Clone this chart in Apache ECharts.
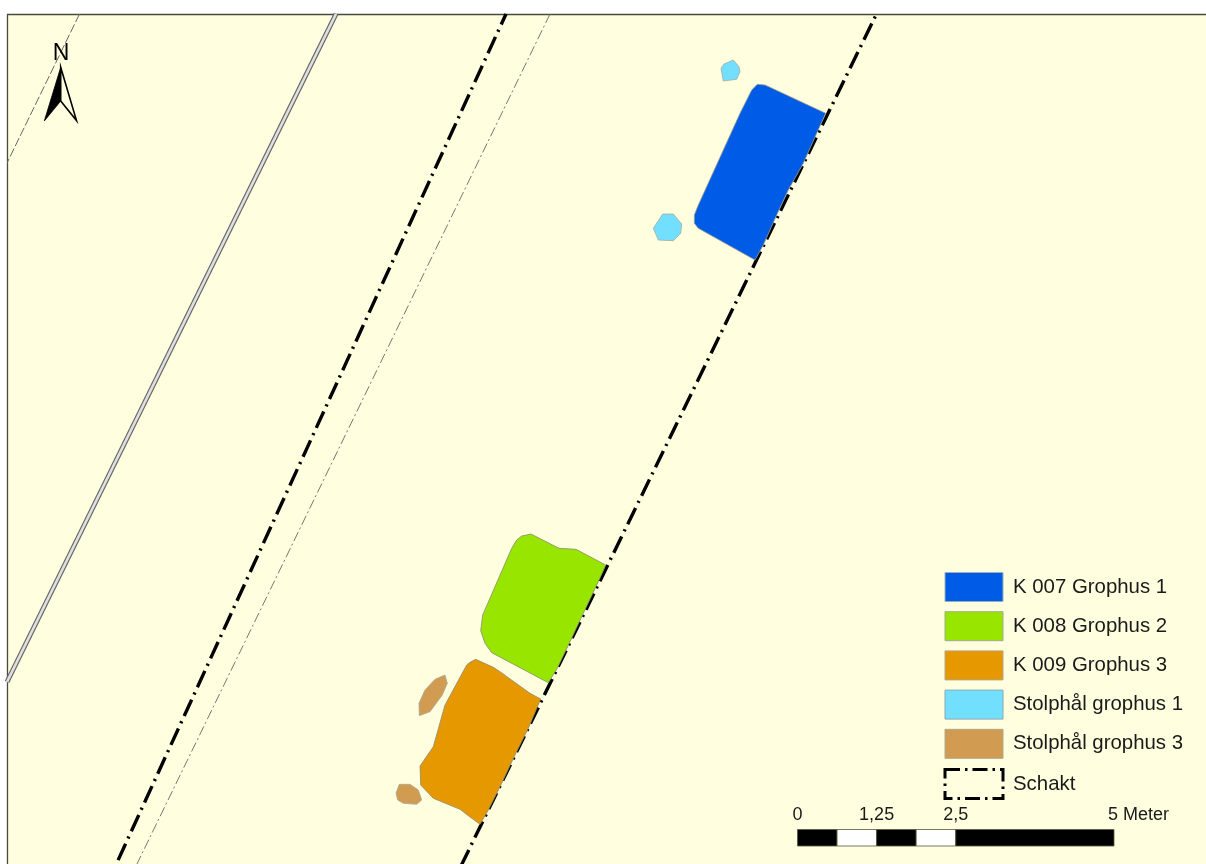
<!DOCTYPE html>
<html>
<head>
<meta charset="utf-8">
<style>html,body{margin:0;padding:0;background:#fff}#c{width:1206px;height:864px}</style>
<script src="https://cdn.jsdelivr.net/npm/echarts@6/dist/echarts.min.js"></script>
</head>
<body>
<div id="c"></div>
<script>
// Map features, in map units
const k007 = [[757.3,84.3],[765,85],[770,87.3],[825.7,113.3],[816.7,133.3],[803.3,163.3],[788.3,190],[776.7,215],[763.3,245],[755,260],[698.3,228.3],[694.3,223.3],[694.3,215],[698.3,205],[740,113.3],[751.7,90]];
const k008 = [[521.7,536],[531,534],[559,548.3],[576,549.3],[605.7,565],[598.3,581.7],[583.3,613.3],[570,641.7],[557.3,668.3],[548.3,682.7],[491.7,652.7],[485,643.3],[480.7,630.7],[482.7,615],[511.7,548.3],[516.7,540]];
const k009 = [[475.7,659.3],[493.3,667.3],[500,671.7],[530,693.3],[540.7,699],[528.3,728.3],[515,755],[500,786.7],[488.3,810],[480,824.3],[468.3,815.7],[460,809.3],[433.3,798.3],[420.7,785],[420,766],[433.3,746.7],[445,705],[466.7,665],[470,662.3]];
const post1a = [[721,68.3],[724,64],[733.3,60],[739,66.7],[740,71.7],[736.7,79.3],[723.3,81]];
const post1b = [[662.7,214],[673.3,214],[681.7,224],[680.7,233.3],[673.3,240.7],[658.3,240],[653.3,228.3]];
const post3a = [[445,675],[447.3,683.3],[442.3,695],[430,711.7],[419.3,715.7],[419,703.3],[425,690],[435,679.3]];
const post3b = [[399.3,784.3],[410,784.3],[418.3,790],[421.7,800],[416.7,804.3],[403.3,803.3],[397.7,800],[396,793.3]];
const schaktA = [[506,14],[114.5,868]];
const schaktB = [[876.5,14],[460,868]];
const thinDashed = [[79.5,14],[7,163]];
const thinDashDot = [[550,14],[135,868]];
const doubleLine = [[336,14],[7,682]];
const arrowDark = [[60.7,67.3],[44.3,121],[60.7,101]];
const arrowLight = [[60.7,67.3],[76.5,120.5],[60.7,101]];
const northLabel = ['N', 61, 54];
const legendNames = ['K 007 Grophus 1','K 008 Grophus 2','K 009 Grophus 3','Stolphål grophus 1','Stolphål grophus 3','Schakt'];
const scaleStops = [0,0.625,1.25,1.875,2.5,5];
const scaleFills = ['#000','#ffffff','#000','#ffffff','#000'];
const scaleTicks = [0,1.25,2.5,5];
const scaleLabels = ['0','1,25','2,5','5 Meter'];

const FONT = '"Liberation Sans", Arial, sans-serif';

function polySeries(name, polys, fill, stroke, z) {
  return {
    type: 'custom', name, coordinateSystem: 'cartesian2d', z: z || 4, silent: true,
    data: polys.map((p, i) => [i]),
    encode: { x: -1, y: -1 },
    itemStyle: { color: fill },
    renderItem: (params, api) => ({
      type: 'polygon',
      shape: { points: polys[api.value(0)].map(pt => api.coord(pt)) },
      style: { fill, stroke, lineWidth: 0.8 }
    })
  };
}
function lineSeries(name, data, color, width, type, offset, z) {
  return {
    type: 'line', name, data, showSymbol: false, symbol: 'none', silent: true, z: z || 3,
    lineStyle: { color, width, type, dashOffset: offset || 0, cap: 'butt' }, clip: true
  };
}
const dashDot = [18, 5.8, 2.2, 5.7];

const option = {
  animation: false,
  backgroundColor: '#ffffff',
  grid: [
    { left: 7.5, top: 14.5, width: 1215, height: 865, outerBoundsMode: 'none', show: true, backgroundColor: '#ffffe0', borderColor: '#4a4a3c', borderWidth: 1.3 },
    { left: 797.5, top: 829.5, width: 316.5, height: 16.5, outerBoundsMode: 'none', show: false }
  ],
  xAxis: [
    { type: 'value', min: 7.5, max: 1222.5, show: false, gridIndex: 0 },
    { type: 'value', min: 0, max: 5, show: false, gridIndex: 1 }
  ],
  yAxis: [
    { type: 'value', min: 14.5, max: 879.5, inverse: true, show: false, gridIndex: 0 },
    { type: 'value', min: 0, max: 1, show: false, gridIndex: 1 }
  ],
  legend: {
    left: 943.5, top: 572, orient: 'vertical', padding: 0, itemWidth: 58, itemHeight: 29, itemGap: 9.2,
    selectedMode: false, icon: 'rect',
    textStyle: { fontFamily: FONT, fontSize: 20.4, color: '#1a1a1a', padding: [0, 0, 0, 5] },
    data: [
      { name: legendNames[0], itemStyle: { color: '#005ce6', borderColor: '#9ab0b8', borderWidth: 1 } },
      { name: legendNames[1], itemStyle: { color: '#98e600', borderColor: '#a0a890', borderWidth: 1 } },
      { name: legendNames[2], itemStyle: { color: '#e69800', borderColor: '#b0a888', borderWidth: 1 } },
      { name: legendNames[3], itemStyle: { color: '#73dfff', borderColor: '#8aa8b0', borderWidth: 1 } },
      { name: legendNames[4], itemStyle: { color: '#d19c52', borderColor: '#b0a888', borderWidth: 1 } },
      { name: legendNames[5], itemStyle: { color: 'rgba(0,0,0,0)', borderColor: '#000', borderWidth: 3, borderType: [15, 5, 2.5, 5] } }
    ]
  },
  series: [
    lineSeries('thinDashed', thinDashed, '#666', 1, [9, 2.5], 0),
    lineSeries('thinDashDot', thinDashDot, '#666', 0.9, [10, 3, 2, 3], 0),
    lineSeries('double-outer', doubleLine, '#666', 5, 'solid'),
    lineSeries('double-inner', doubleLine, '#e0e0e0', 2.6, 'solid'),
    lineSeries(legendNames[5], schaktA, '#000', 3.4, dashDot, 6.5),
    lineSeries(legendNames[5], schaktB, '#000', 3.4, dashDot, 21),
    polySeries(legendNames[0], [k007], '#005ce6', '#a0a088'),
    polySeries(legendNames[1], [k008], '#98e600', '#8a8a70'),
    polySeries(legendNames[2], [k009], '#e69800', '#8a8a70'),
    polySeries(legendNames[3], [post1a, post1b], '#73dfff', '#a8a8a0'),
    polySeries(legendNames[4], [post3a, post3b], '#d19c52', '#a8a890'),
    polySeries('arrow-dark', [arrowDark], '#000', '#000', 6),
    {
      type: 'custom', name: 'arrow-light', z: 6, silent: true, data: [[0]], encode: { x: -1, y: -1 },
      renderItem: (p, api) => ({ type: 'polygon', shape: { points: arrowLight.map(pt => api.coord(pt)) },
        style: { fill: '#ffffe0', stroke: '#000', lineWidth: 1.6 } })
    },
    {
      type: 'custom', name: 'north', z: 6, silent: true, data: [[northLabel[1], northLabel[2]]],
      renderItem: (p, api) => {
        const c = api.coord([api.value(0), api.value(1)]);
        return { type: 'text', style: { text: northLabel[0], x: c[0], y: c[1], align: 'center', verticalAlign: 'middle',
          font: '23px ' + FONT, fill: '#000' } };
      }
    },
    {
      type: 'custom', name: 'scale-bar', xAxisIndex: 1, yAxisIndex: 1, z: 6, silent: true,
      data: scaleFills.map((f, i) => [scaleStops[i], scaleStops[i + 1], i]),
      encode: { x: [0, 1], y: -1 },
      renderItem: (p, api) => {
        const a = api.coord([api.value(0), 0]), b = api.coord([api.value(1), 1]);
        return { type: 'rect', shape: { x: a[0], y: b[1], width: b[0] - a[0], height: a[1] - b[1] },
          style: { fill: scaleFills[api.value(2)], stroke: '#55553a', lineWidth: 0.8 } };
      }
    },
    {
      type: 'custom', name: 'scale-labels', xAxisIndex: 1, yAxisIndex: 1, z: 6, silent: true,
      data: scaleTicks.map((t, i) => [t, i]),
      encode: { x: 0, y: -1 },
      renderItem: (p, api) => {
        const i = api.value(1), c = api.coord([api.value(0), 1]);
        const last = i === scaleLabels.length - 1;
        return { type: 'text', style: { text: scaleLabels[i], x: last ? c[0] - 6 : c[0], y: c[1] - 14,
          align: last ? 'left' : 'center', verticalAlign: 'middle', font: '18px ' + FONT, fill: '#1a1a1a' } };
      }
    }
  ]
};
const chart = echarts.init(document.getElementById('c'), null, { renderer: 'canvas' });
chart.setOption(option);
</script>
</body>
</html>
